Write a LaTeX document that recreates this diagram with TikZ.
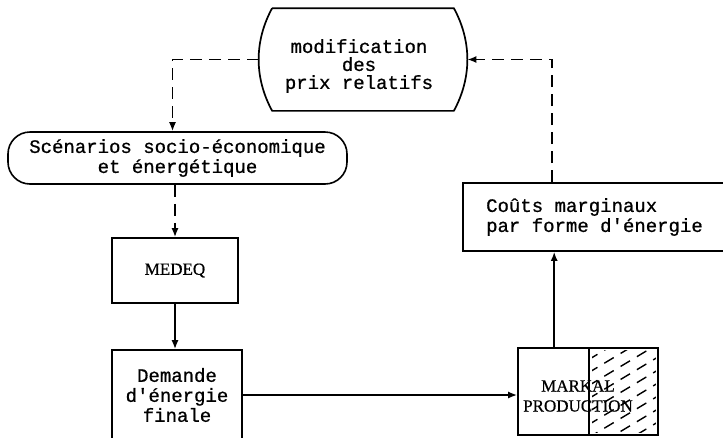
\documentclass[tikz,border=0pt]{standalone}
\usepackage{fontspec}
\setmainfont[FakeBold=0.6]{Liberation Serif}
\setmonofont[FakeBold=0.8]{Liberation Mono}
\usepackage{tikz}
\usetikzlibrary{positioning}
\usetikzlibrary{calc,arrows.meta}
\tikzset{
  texte/.style = {align=center, inner sep=0pt,
    font=\ttfamily\fontsize{19}{20}\selectfont},
  boite/.style = {texte, rectangle, draw=black, line width=1.6pt},% boite simple
  bulle/.style = {boite, rounded corners=22pt},% boite arrondie
  romain/.style = {font=\rmfamily\fontsize{17}{20}\selectfont},
  tiret/.style = {dash pattern=on 12pt off 7pt, line width=1.7pt},
  hachure/.style = {line width=1.4pt, dash pattern=on 11pt off 8pt}
}

\begin{document}
\begin{tikzpicture}[x=1pt,y=-1pt,>={Latex[length=9pt,width=7pt]},
  line width=1.7pt]
\useasboundingbox (0,0) rectangle (723,437);
% prix relatifs, cotes bombes
\node [texte, minimum width=180, minimum height=101] (prix) at (363,59.5) {};
\draw (prix.north west) -- (prix.north east)
   .. controls +(18,33) and +(18,-33) .. (prix.south east)
   -- (prix.south west)
   .. controls +(-18,-33) and +(-18,33) .. (prix.north west);
\node [texte, font=\ttfamily\fontsize{19}{18}\selectfont] (prixtxt) at (359,66)
  {modification\\des\\prix relatifs};
\coordinate (pg) at ($(prix.west)+(-13.5,0)$);
\coordinate (pd) at ($(prix.east)+(13.5,0)$);

\node [bulle, minimum width=339, minimum height=52] (scen) at (177.5,158)
  {Scénarios socio-économique\\et énergétique};
\node [boite, romain, minimum width=126, minimum height=65] (medeq) at (175,270.5)
  {MEDEQ};
\node [boite, minimum width=130, minimum height=90] (dem) at (177,395)
  {Demande\\d'énergie\\finale};
\node [boite, align=left, minimum width=263, minimum height=68] (couts) at (594.5,217)
  {Coûts marginaux\\par forme d'énergie};

% MARKAL, moitie droite hachuree
\node [boite, minimum width=140, minimum height=87] (markal) at (588,391.5) {};
\coordinate (mc) at ($(markal.north west)+(72,0)$);
\draw (mc) -- (mc |- markal.south);
\begin{scope}
  \clip ($(mc)+(3,3)$) rectangle ($(markal.south east)+(-3,-3)$);
  \foreach \k in {0,...,10}
    \draw [hachure] (588,360+13*\k) -- ++(90,-54);
\end{scope}
\node [texte, romain] (markaltxt) at (578,396) {MARKAL\\PRODUCTION};

% liaisons
\draw [tiret,->] (pg) -| ($(scen.north)+(-5,0)$);
\draw [tiret,->] (scen.south -| medeq.north) -- (medeq.north);
\draw [->] (medeq.south) -- (medeq.south |- dem.north);
\draw [->] (dem.east) -- (dem.east -| markal.west);
\coordinate (mh) at ($(markal.north west)+(37,0)$);
\draw [->] (mh) -- (mh |- couts.south);
\coordinate (ch) at ($(couts.north west)+(90,0)$);
\draw [tiret,->] (ch) |- (pd);
\end{tikzpicture}
\end{document}
